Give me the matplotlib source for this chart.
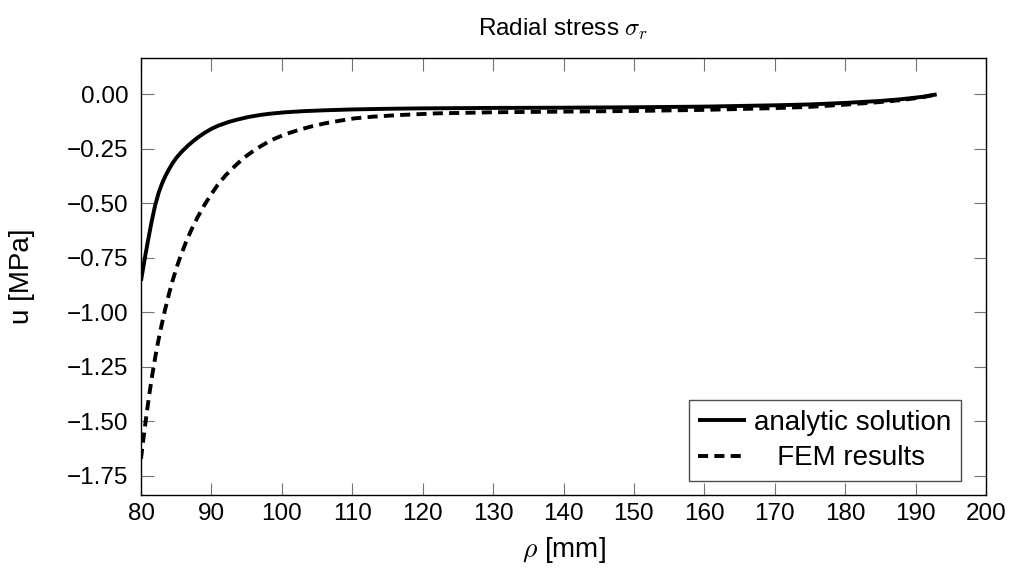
import matplotlib
matplotlib.use("Agg")
from matplotlib import pyplot as plt

plt.rcParams['font.family'] = ['Liberation Sans', 'DejaVu Sans']
plt.rcParams['mathtext.fontset'] = 'cm'

# values
rho_analytic = [80.0, 80.5, 81.0, 81.5, 82.0, 82.5, 83.0, 83.5, 84.0, 84.5,
                85.0, 85.5, 86.0, 86.7, 87.5, 88.1, 89.0, 90.0, 91.0, 92.4,
                93.5, 95.2, 97.0, 98.5, 100.5, 103.0, 106.0, 110.0, 115.0,
                120.0, 130.0, 140.0, 150.0, 160.0, 170.0, 175.0, 180.0, 185.0,
                188.0, 191.0, 193.0]
sigma_analytic = [-0.855, -0.76, -0.67, -0.585, -0.51, -0.452, -0.408, -0.372,
                  -0.342, -0.315, -0.292, -0.273, -0.256, -0.234, -0.212, -0.197,
                  -0.177, -0.158, -0.143, -0.127, -0.117, -0.104, -0.094, -0.088,
                  -0.082, -0.077, -0.073, -0.069, -0.066, -0.064, -0.062, -0.061,
                  -0.059, -0.056, -0.050, -0.046, -0.039, -0.030, -0.022, -0.011,
                  0.0]

rho_fem = [80.0, 80.4, 80.8, 81.2, 81.6, 82.0, 82.4, 82.9, 83.4, 84.0, 84.5,
           85.1, 85.7, 86.4, 87.1, 88.0, 89.0, 90.0, 90.9, 92.0, 93.3, 94.6,
           96.1, 97.3, 98.5, 100.3, 102.3, 104.2, 106.1, 108.2, 110.3, 113.0,
           116.5, 122.0, 130.0, 140.0, 150.0, 160.0, 170.0, 175.0, 180.0,
           185.0, 188.0, 191.0, 193.0]
sigma_fem = [-1.672, -1.565, -1.465, -1.372, -1.287, -1.21, -1.14, -1.062,
             -0.99, -0.912, -0.853, -0.79, -0.735, -0.677, -0.625, -0.566,
             -0.508, -0.457, -0.415, -0.372, -0.330, -0.291, -0.256, -0.232,
             -0.210, -0.185, -0.164, -0.147, -0.133, -0.121, -0.110, -0.102,
             -0.095, -0.087, -0.082, -0.079, -0.076, -0.071, -0.063, -0.057,
             -0.047, -0.035, -0.026, -0.013, 0.0]

x_ticks = list(range(80, 201, 10))
y_ticks = [-1.75, -1.5, -1.25, -1.0, -0.75, -0.5, -0.25, 0.0]

fig = plt.figure(figsize=(10.11, 5.74), dpi=100)
ax = fig.add_axes([141 / 1011, 1 - 495 / 574, (986 - 141) / 1011, (495 - 58) / 574])

ax.plot(rho_analytic, sigma_analytic, color='black', lw=2.8,
        solid_capstyle='butt', solid_joinstyle='round', label='analytic solution')
ax.plot(rho_fem, sigma_fem, color='black', lw=2.8, dashes=(2.6, 1.6),
        dash_capstyle='butt', dash_joinstyle='round', label='   FEM results')

ax.set_xlim(80, 200)
ax.set_ylim(-1.838, 0.167)
ax.set_xticks(x_ticks)
ax.set_yticks(y_ticks)
ax.set_yticklabels([('%.2f' % v).replace('-', '\u2212') for v in y_ticks])
ax.tick_params(direction='in', length=9, width=0.8, color='0.45',
               top=True, right=True, labelsize=17.5)
ax.tick_params(axis='x', pad=6)
ax.tick_params(axis='y', pad=9)
for s in ax.spines.values():
    s.set_linewidth(1.0)
    s.set_color('black')

ax.set_title(r'Radial stress $\sigma_r$', fontsize=17.5, pad=16)
ax.set_xlabel(r'$\rho$ [mm]', fontsize=20, labelpad=7)
ax.set_ylabel('u [MPa]', fontsize=20, labelpad=23)

leg = ax.legend(loc='lower right', bbox_to_anchor=(0.9704, 0.032),
                fontsize=20, handlelength=1.7, handletextpad=0.3,
                borderpad=0.35, labelspacing=0.35, borderaxespad=0.0,
                fancybox=False, framealpha=1)
leg.get_frame().set_edgecolor('0.3')
leg.get_frame().set_linewidth(1.0)

fig.savefig('out.png', dpi=100)
